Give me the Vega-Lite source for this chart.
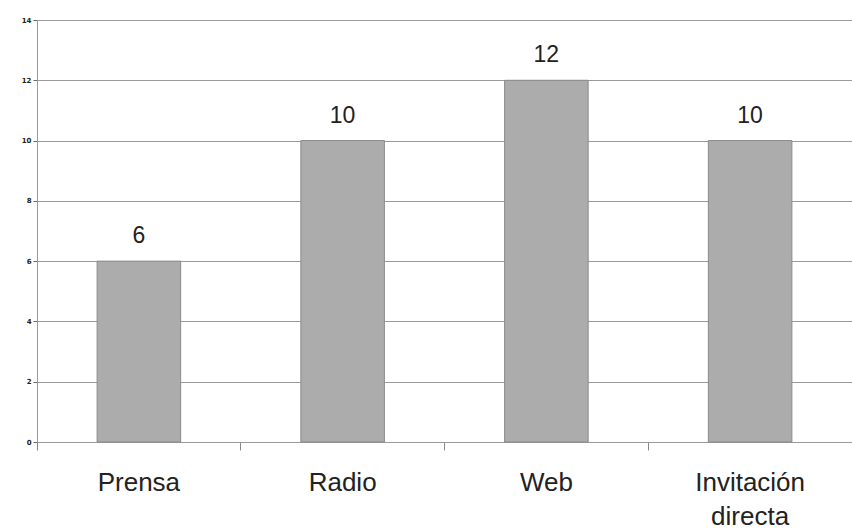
{
  "$schema": "https://vega.github.io/schema/vega-lite/v6.json",
  "autosize": {"type": "none"},
  "width": 815,
  "height": 422,
  "padding": {"left": 37, "top": 20, "right": 0, "bottom": 90},
  "background": "white",
  "config": {"view": {"stroke": null}},
  "data": {"values": [
    {"canal": "Prensa", "valor": 6},
    {"canal": "Radio", "valor": 10},
    {"canal": "Web", "valor": 12},
    {"canal": "Invitación directa", "valor": 10}
  ]},
  "encoding": {
    "x": {"field": "canal", "type": "nominal", "sort": null,
      "scale": {"paddingInner": 0, "paddingOuter": 0},
      "axis": {"title": null, "labelAngle": 0, "labelFont": "Liberation Sans", "labelFontSize": 26, "labelColor": "#222",
        "labelPadding": 19, "labelLineHeight": 34,
        "labelExpr": "datum.label == 'Invitación directa' ? ['Invitación', 'directa'] : datum.label",
        "bandPosition": 0, "ticks": true, "tickSize": 8, "tickColor": "#888", "domainColor": "#999", "grid": false}},
    "y": {"field": "valor", "type": "quantitative",
      "scale": {"domain": [0, 14]},
      "axis": {"title": null, "values": [0,2,4,6,8,10,12,14], "labelFont": "DejaVu Sans", "labelFontSize": 7, "labelColor": "#222", "labelFontWeight": "bold",
        "tickSize": 4, "tickColor": "#666", "domainColor": "#999", "gridColor": "#9a9a9a", "gridWidth": 1.2, "labelPadding": 2}}
  },
  "layer": [
    {"mark": {"type": "bar", "color": "#acacac", "stroke": "#8a8a8a", "strokeWidth": 1, "width": {"band": 0.41}}},
    {"mark": {"type": "text", "baseline": "alphabetic", "dy": -18, "font": "Liberation Sans", "fontSize": 23, "color": "#222"},
     "encoding": {"text": {"field": "valor", "type": "quantitative"}}}
  ]
}
